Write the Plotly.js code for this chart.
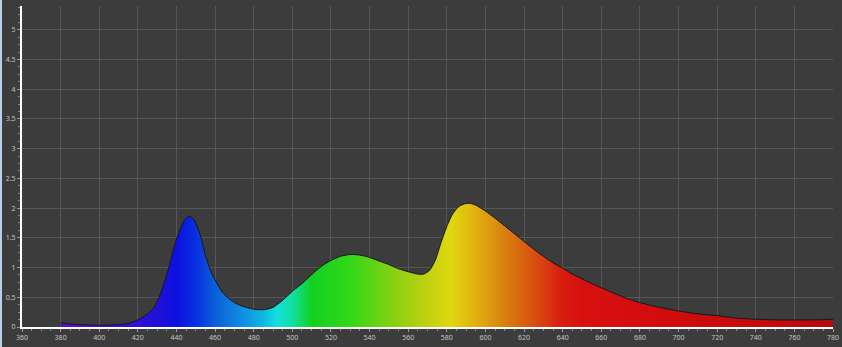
<!DOCTYPE html>
<html>
<head>
<meta charset="utf-8">
<script src="https://cdn.plot.ly/plotly-3.0.1.min.js"></script>
<style>
  html, body { margin: 0; padding: 0; background: #3c3c3c; overflow: hidden; }
  #chart { width: 842px; height: 347px; }
  #edge { position: absolute; left: 0; top: 0; width: 2px; height: 347px; background: #b7d0e8; z-index: 10; }
</style>
</head>
<body>
<div id="edge"></div>
<div id="chart"></div>
<script>
// Wavelength (nm) and relative spectral power
var wavelengths = [380,385,390,400,410,415,420,425,428,431,433,436,438,440,442,444,446,447,449,451,453,455,458,460,463,466,470,475,480,485,490,495,500,505,510,515,520,525,530,535,540,545,550,555,560,565,568,571,574,577,580,583,586,589,592,595,600,605,610,615,620,625,630,635,640,645,650,655,660,665,670,675,680,690,700,710,720,730,740,750,760,770,780];
var power = [0.07,0.05,0.04,0.03,0.04,0.06,0.12,0.22,0.31,0.50,0.68,1.00,1.25,1.48,1.65,1.79,1.86,1.86,1.81,1.67,1.47,1.20,0.92,0.79,0.62,0.51,0.41,0.34,0.30,0.29,0.33,0.45,0.60,0.73,0.88,1.02,1.12,1.19,1.22,1.21,1.17,1.11,1.05,0.98,0.93,0.89,0.89,0.95,1.12,1.42,1.69,1.90,2.02,2.07,2.08,2.05,1.95,1.83,1.70,1.57,1.44,1.31,1.19,1.08,0.99,0.89,0.81,0.73,0.66,0.59,0.52,0.46,0.41,0.33,0.27,0.22,0.19,0.15,0.13,0.12,0.12,0.12,0.13];

// Spectrum colour stops (wavelength -> colour)
var spectrumNm = [380,410,430,440,450,460,475,485,492,500,510,530,555,570,582,595,610,625,640,650,700,760,780];
var spectrumColors = ['#5512c0','#3c10d0','#2010d8','#0c10e0','#0830e0','#0c60d8','#1090e0','#10b8e0','#12e0e0','#10e0a0','#12d020','#32d818','#90d010','#c0d010','#e0d810','#e0b010','#d88010','#d85010','#d81c10','#d81010','#d00c0c','#c00c0e','#b00c10'];

var xTicks = [360,380,400,420,440,460,480,500,520,540,560,580,600,620,640,660,680,700,720,740,760,780];
var yTicks = [0,0.5,1,1.5,2,2.5,3,3.5,4,4.5,5];
var yTickLabels = ['0','0.5','1','1.5','2','2.5','3','3.5','4','4.5','5'];

var lo = spectrumNm[0], hi = spectrumNm[spectrumNm.length - 1];
var colorscale = spectrumNm.map(function (nm, i) {
  return [(nm - lo) / (hi - lo), spectrumColors[i]];
});

var trace = {
  x: wavelengths,
  y: power,
  type: 'scatter',
  mode: 'lines',
  line: { color: '#161616', width: 1, shape: 'spline', smoothing: 0.6 },
  fill: 'tozeroy',
  fillgradient: { type: 'horizontal', colorscale: colorscale, start: lo, stop: hi },
  hoverinfo: 'x+y'
};

var tickFont = { family: 'Noto Sans, DejaVu Sans, sans-serif', size: 7, color: '#c4c4c4' };

var layout = {
  width: 842,
  height: 347,
  margin: { l: 22, r: 9, t: 6, b: 20, pad: 0 },
  paper_bgcolor: '#3c3c3c',
  plot_bgcolor: '#3c3c3c',
  showlegend: false,
  xaxis: {
    range: [360, 780],
    tickmode: 'array',
    tickvals: xTicks,
    ticktext: xTicks.map(String),
    showgrid: true,
    gridcolor: '#565656',
    gridwidth: 1,
    zeroline: false,
    showline: true,
    linecolor: '#ffffff',
    linewidth: 2,
    ticks: 'outside',
    ticklen: 3,
    tickcolor: '#9a9a9a',
    tickfont: tickFont,
    minor: { dtick: 5, ticks: 'outside', ticklen: 2, tickcolor: '#8a8a8a', showgrid: false }
  },
  yaxis: {
    range: [0, 5.4],
    tickmode: 'array',
    tickvals: yTicks,
    ticktext: yTickLabels,
    showgrid: true,
    gridcolor: '#565656',
    gridwidth: 1,
    zeroline: false,
    showline: true,
    linecolor: '#ffffff',
    linewidth: 2,
    ticks: 'outside',
    ticklen: 3,
    tickcolor: '#9a9a9a',
    tickfont: tickFont,
    minor: { dtick: 0.125, tick0: 0, ticks: 'outside', ticklen: 2, tickcolor: '#8a8a8a', showgrid: false }
  }
};

Plotly.newPlot('chart', [trace], layout, { displayModeBar: false, staticPlot: true });
</script>
</body>
</html>
